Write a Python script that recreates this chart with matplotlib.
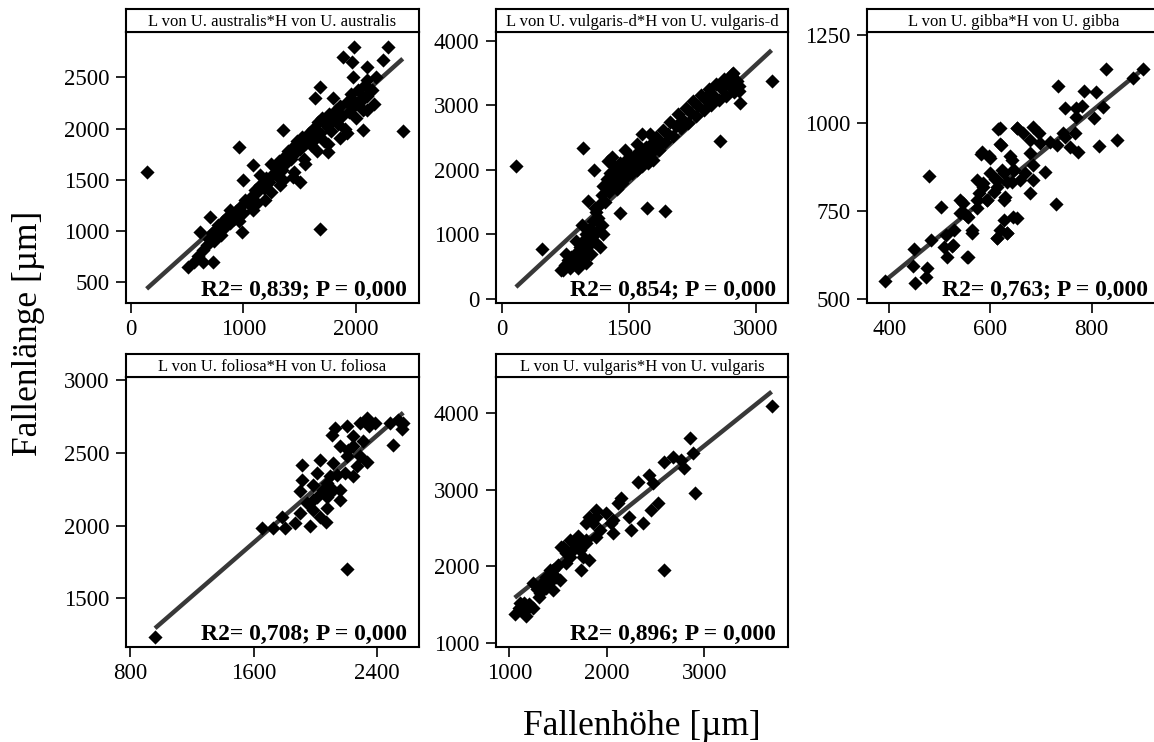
import matplotlib
matplotlib.use('Agg')
import matplotlib.pyplot as plt
import numpy as np

plt.rcParams['font.family'] = ['Liberation Serif', 'DejaVu Serif']

# panel titles and statistics
titles = ['L von U. australis*H von U. australis',
          'L von U. vulgaris-d*H von U. vulgaris-d',
          'L von U. gibba*H von U. gibba',
          'L von U. foliosa*H von U. foliosa',
          'L von U. vulgaris*H von U. vulgaris']
r2_labels = ['R2= 0,839; P = 0,000', 'R2= 0,854; P = 0,000', 'R2= 0,763; P = 0,000',
             'R2= 0,708; P = 0,000', 'R2= 0,896; P = 0,000']

# fitted regression lines (slope, intercept)
fit_slope = [0.988, 1.218, 1.181, 0.923, 1.022]
fit_intercept = [295, -24, 89, 405, 509]

# axis ranges and ticks
xlims = [(-40, 2559), (-67, 3376), (356, 935), (774, 2672), (864, 3859)]
ylims = [(301, 2939), (-62, 4130), (489, 1258), (1166, 3025), (948, 4478)]
xticks = [[0, 1000, 2000], [0, 1500, 3000], [400, 600, 800], [800, 1600, 2400], [1000, 2000, 3000]]
yticks = [[500, 1000, 1500, 2000, 2500], [0, 1000, 2000, 3000, 4000], [500, 750, 1000, 1250],
          [1500, 2000, 2500, 3000], [1000, 2000, 3000, 4000]]

# (Fallenhoehe, Fallenlaenge) pairs per species, estimated from the figure
australis = [
    (143, 1573), (966, 1823), (1682, 1017), (2415, 1976), (1984, 2799), (2288, 2799), (2238, 2669),
    (1889, 2701), (1963, 2652), (2096, 2604), (1977, 2500), (2096, 2474), (1682, 2402), (1637, 2295),
    (1800, 2295), (2066, 2311), (1977, 2278), (2096, 2181), (2066, 1986), (1918, 1953), (1859, 1904),
    (1756, 1774), (1504, 1482), (1327, 1449), (1445, 1530), (1194, 1303), (1120, 1270), (1090, 1205),
    (987, 994), (735, 701), (646, 701), (513, 652), (617, 994), (706, 1140), (883, 1205), (1001, 1498),
    (1090, 1644), (1356, 1986),
    (560, 700), (600, 760), (640, 820), (680, 860), (700, 920), (720, 980), (740, 900), (760, 1000),
    (780, 1060), (800, 960), (820, 1100), (840, 1040), (860, 1140), (880, 1080), (900, 1160),
    (920, 1120), (940, 1200), (960, 1100), (980, 1240), (1000, 1180), (1020, 1300), (1050, 1260),
    (1080, 1340), (1100, 1400), (1120, 1380), (1150, 1450), (1180, 1420), (1200, 1520), (1230, 1480),
    (1260, 1560), (1280, 1620), (1300, 1540), (1320, 1680), (1340, 1600), (1360, 1720), (1380, 1660),
    (1400, 1780), (1420, 1700), (1440, 1820), (1460, 1760), (1480, 1880), (1500, 1800), (1520, 1920),
    (1540, 1700), (1560, 1860), (1580, 1960), (1600, 1840), (1620, 2000), (1640, 1900), (1660, 2060),
    (1680, 1960), (1700, 2100), (1720, 1880), (1740, 2020), (1760, 2140), (1780, 1980), (1800, 2080),
    (1820, 2180), (1840, 2040), (1860, 2220), (1880, 2120), (1900, 2000), (1920, 2260), (1940, 2160),
    (1960, 2340), (1980, 2220), (2000, 2100), (2020, 2380), (2040, 2260), (2060, 2180), (2080, 2420),
    (2100, 2320), (2140, 2380), (2180, 2500), (2160, 2240),
    (1250, 1380), (1350, 1500), (1450, 1580), (1550, 1650), (1650, 1780), (1750, 1850), (1250, 1650),
    (1150, 1550),
]

vulgaris_d = [
    (168, 2064), (470, 767), (960, 2334), (1085, 1997), (1018, 1514), (1253, 2137), (1712, 1400),
    (1931, 1359), (1390, 1322), (724, 440), (1657, 2552),
    (700, 450), (750, 520), (780, 600), (800, 480), (820, 650), (850, 560), (870, 700), (900, 620),
    (920, 800), (940, 720), (960, 900), (980, 650), (1000, 1000), (1020, 820), (1040, 1100),
    (1060, 950), (1080, 1200), (1100, 880), (1120, 1050), (1140, 1250), (1160, 800), (1180, 1150),
    (1000, 560), (900, 480), (1050, 700), (1200, 1000), (760, 700), (880, 900), (1110, 1350),
    (950, 1150), (1100, 1400),
    (1150, 1450), (1180, 1600), (1200, 1750), (1220, 1500), (1240, 1850), (1260, 1650), (1280, 1950),
    (1300, 1750), (1320, 2050), (1340, 1850), (1360, 1700), (1380, 1950), (1400, 2100), (1420, 1800),
    (1440, 2000), (1460, 2150), (1480, 1900), (1500, 2050), (1520, 2200), (1540, 1950), (1560, 2100),
    (1580, 2250), (1600, 2000), (1620, 2150), (1640, 2300), (1660, 2050), (1680, 2200), (1700, 2350),
    (1720, 2100), (1740, 2250), (1760, 2400), (1780, 2150), (1800, 2300),
    (1300, 2200), (1450, 2300), (1600, 2400), (1750, 2550),
    (1820, 2500), (1850, 2300), (1880, 2420), (1900, 2620), (1930, 2430), (1960, 2560), (1990, 2740),
    (2020, 2520), (2050, 2680), (2080, 2860), (2110, 2640), (2140, 2770), (2170, 2950), (2200, 2720),
    (2230, 2880), (2260, 3060), (2290, 2830), (2320, 2980), (2350, 3160), (2380, 2920), (2410, 3080),
    (2440, 3250), (2470, 3000), (2500, 3150), (2530, 3330), (2560, 3080), (2590, 3260), (2620, 3400),
    (2650, 3150), (2680, 3320), (2710, 3480), (2740, 3200), (2770, 3380), (2800, 3300),
    (2420, 3150), (2723, 3501), (2801, 3216), (2809, 3034), (2580, 2440), (3182, 3371), (2700, 3450),
    (2650, 3350),
]

gibba = [
    (392, 552), (450, 546), (448, 641), (446, 594), (474, 587), (473, 563), (479, 849), (502, 762),
    (483, 666), (512, 682), (509, 647), (526, 653), (514, 620), (556, 618), (539, 781), (547, 743),
    (554, 736), (563, 686), (578, 800), (573, 781), (594, 781), (581, 912), (598, 906), (609, 840),
    (613, 672), (632, 686), (614, 982), (620, 937), (652, 985), (642, 895), (665, 971), (613, 819),
    (632, 833), (629, 791), (652, 729), (586, 829), (599, 857), (626, 857), (646, 866), (659, 838),
    (829, 1155), (901, 1155), (881, 1127), (734, 1105), (784, 1092), (809, 1089), (748, 1042),
    (769, 1044), (780, 1048), (823, 1046), (805, 1013), (769, 1018), (767, 971), (743, 971),
    (685, 988), (695, 971), (678, 952), (618, 985), (652, 985), (698, 942), (718, 947), (731, 937),
    (748, 961), (757, 933), (772, 918), (815, 935), (850, 952), (583, 918), (619, 940), (639, 906),
    (599, 900), (622, 866), (645, 866), (678, 914), (668, 857), (685, 881), (708, 862), (685, 838),
    (573, 838), (586, 819), (606, 805), (626, 781), (593, 781), (612, 838), (642, 833), (678, 800),
    (730, 770), (546, 772), (540, 743), (563, 696), (528, 696), (556, 734), (573, 758), (626, 724),
    (645, 734), (619, 696), (632, 686), (612, 672), (523, 649), (553, 620),
]

foliosa = [
    (962, 1235), (2203, 1699), (1653, 1982), (1724, 1982), (1782, 2062), (1804, 1982), (1869, 2016),
    (1901, 2085), (1966, 1998), (2067, 2028), (1987, 2108), (2031, 2062), (2074, 2120), (1912, 2418),
    (1912, 2315), (1901, 2235), (1987, 2281), (2031, 2453), (2009, 2361), (2117, 2430), (2095, 2338),
    (2074, 2292), (2160, 2246), (2160, 2177), (2160, 2545), (2106, 2625), (2128, 2671), (2203, 2683),
    (2214, 2522), (2246, 2614), (2203, 2476), (2290, 2476), (2333, 2441), (2268, 2407), (2246, 2545),
    (2333, 2740), (2350, 2687), (2387, 2706), (2311, 2579), (2290, 2706), (2484, 2706), (2506, 2556),
    (2538, 2729), (2570, 2706), (2559, 2664), (2117, 2246), (2138, 2350), (2192, 2361), (2246, 2338),
    (2074, 2200), (2009, 2200), (1944, 2154), (1987, 2177), (2052, 2246),
]

vulgaris = [
    (1056, 1376), (1169, 1350), (1244, 1451), (1107, 1516), (1244, 1777), (1380, 1712), (1448, 1690),
    (1312, 1647), (1516, 1821), (1414, 1952), (1533, 2257), (1584, 2039), (1619, 2126), (1721, 2213),
    (1738, 1952), (1687, 2300), (1789, 2344), (1823, 2082), (1857, 2562), (1891, 2649), (1926, 2475),
    (1891, 2387), (2044, 2562), (2061, 2431), (2113, 2823), (2147, 2888), (2232, 2649), (2249, 2475),
    (2368, 2562), (2317, 3106), (2436, 3193), (2471, 3084), (2453, 2736), (2522, 2823), (2590, 1952),
    (2590, 3368), (2675, 3433), (2760, 3390), (2794, 3281), (2852, 3673), (2880, 3477), (2907, 2954),
    (1993, 2692), (2061, 2605), (1619, 2344), (1584, 2170), (1499, 2017), (1448, 1952), (1346, 1799),
    (1789, 2562), (1823, 2649), (1891, 2736), (1755, 2126), (1789, 2300), (1653, 2213), (1482, 1864),
    (1380, 1864), (3691, 4095),
    (1100, 1450), (1150, 1400), (1200, 1500), (1280, 1700), (1350, 1750), (1420, 1800), (1300, 1600),
    (1150, 1520), (1550, 2250), (1650, 2300), (1700, 2400),
]

datasets = [australis, vulgaris_d, gibba, foliosa, vulgaris]

W, H = 1154, 742
fig = plt.figure(figsize=(W / 100, H / 100), dpi=100)

# panel frames in pixels: (left, right) per column, (strip top, data top, data bottom) per row
col_px = [(126, 419), (496, 788), (867, 1160)]
row_px = [(9.3, 32.3, 302.7), (354.3, 376.7, 646.7)]

for i, data in enumerate(datasets):
    r, c = divmod(i, 3)
    left, right = col_px[c]
    stop, dtop, dbot = row_px[r]
    ax = fig.add_axes([left / W, 1 - dbot / H, (right - left) / W, (dbot - dtop) / H])
    sax = fig.add_axes([left / W, 1 - dtop / H, (right - left) / W, (dtop - stop) / H])

    pts = np.array(data, dtype=float)
    x, y = pts[:, 0], pts[:, 1]
    xs = np.array([x.min(), x.max()])
    ax.plot(xs, fit_slope[i] * xs + fit_intercept[i], color='#383838', lw=3.2,
            solid_capstyle='butt', zorder=2)
    ax.scatter(x, y, marker='D', s=52, color='black', linewidths=0, zorder=3)

    ax.set_xlim(xlims[i])
    ax.set_ylim(ylims[i])
    ax.set_xticks(xticks[i])
    ax.set_yticks(yticks[i])
    ax.tick_params(direction='out', length=7, width=1.2, labelsize=16.5, pad=5, color='black')
    for sp in ax.spines.values():
        sp.set_linewidth(1.5)
    ax.text(1 - 12 / (right - left), 7 / (dbot - dtop), r2_labels[i], transform=ax.transAxes,
            ha='right', va='baseline', fontsize=17, fontweight='bold')

    sax.set_xticks([])
    sax.set_yticks([])
    for sp in sax.spines.values():
        sp.set_linewidth(1.5)
    sax.text(0.5, 0.45, titles[i], transform=sax.transAxes, ha='center', va='center', fontsize=12)

fig.text(641.7 / W, 1 - 735 / H, 'Fallenhöhe [µm]', ha='center', va='baseline', fontsize=25.5)
fig.text(12 / W, 1 - 333 / H, 'Fallenlänge [µm]', ha='left', va='center', rotation=90, fontsize=25.5)

fig.savefig('out.png', dpi=100)
